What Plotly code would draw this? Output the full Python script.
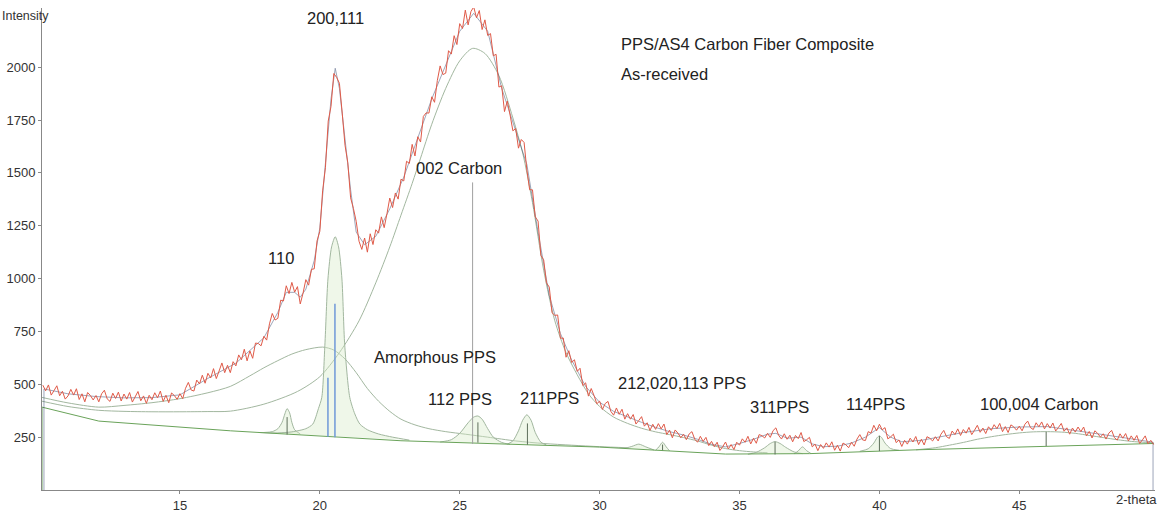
import numpy as np
import plotly.graph_objects as go

# ---------------- data ----------------
# measured pattern, 2-theta from 10.1 to 49.8 in 0.1 deg steps
two_theta = np.round(np.arange(10.1, 49.85, 0.1), 1)
intensity = [
    496, 469, 497, 449, 470, 493, 446, 467, 430,                    # 10.1-10.9
    445, 476, 449, 479, 428, 455, 417, 461, 447, 426,               # 11
    447, 417, 455, 472, 431, 419, 458, 433, 463, 421,               # 12
    454, 430, 461, 416, 440, 466, 422, 445, 410, 448,               # 13
    427, 460, 436, 468, 419, 448, 413, 459, 447, 429,               # 14
    456, 432, 481, 509, 473, 468, 520, 502, 543, 505,               # 15
    552, 530, 574, 527, 563, 601, 555, 590, 555, 607,               # 16
    587, 639, 616, 666, 611, 658, 623, 695, 693, 682,               # 17
    727, 709, 786, 835, 804, 812, 898, 894, 966, 929,               # 18
    982, 936, 962, 880, 931, 995, 969, 1044, 1046, 1178,            # 19
    1224, 1415, 1525, 1745, 1815, 1970, 1952, 1924, 1783, 1631,     # 20
    1548, 1382, 1332, 1271, 1177, 1138, 1192, 1125, 1212, 1161,     # 21
    1231, 1215, 1292, 1241, 1307, 1381, 1336, 1405, 1376, 1470,     # 22
    1462, 1555, 1545, 1635, 1580, 1671, 1646, 1767, 1784, 1783,     # 23
    1860, 1834, 1937, 2006, 1965, 1972, 2078, 2062, 2149, 2107,     # 24
    2206, 2183, 2270, 2200, 2263, 2285, 2234, 2268, 2178, 2224,     # 25
    2150, 2159, 2054, 2061, 1906, 1912, 1790, 1840, 1774, 1699,     # 26
    1710, 1617, 1658, 1644, 1514, 1420, 1420, 1292, 1272, 1110,     # 27
    1089, 980, 960, 838, 826, 828, 718, 719, 628, 659,              # 28
    603, 616, 561, 576, 494, 507, 444, 480, 447, 408,               # 29
    420, 381, 409, 419, 372, 354, 388, 358, 382, 335,               # 30
    361, 335, 357, 312, 329, 347, 302, 318, 282, 311,               # 31
    287, 314, 289, 312, 262, 283, 247, 284, 269, 247,               # 32
    264, 238, 265, 276, 240, 226, 254, 230, 249, 210,               # 33
    230, 205, 226, 187, 205, 227, 194, 215, 191, 226,               # 34
    212, 242, 226, 254, 218, 245, 221, 262, 257, 246,               # 35
    268, 249, 281, 294, 258, 241, 266, 240, 259, 228,               # 36
    258, 243, 272, 229, 238, 249, 204, 217, 186, 215,               # 37
    197, 223, 203, 228, 188, 212, 184, 222, 214, 200,               # 38
    226, 207, 241, 262, 237, 234, 276, 269, 306, 280,               # 39
    311, 285, 295, 242, 251, 264, 224, 237, 206, 235,               # 40
    217, 245, 227, 253, 215, 240, 213, 252, 245, 232,               # 41
    252, 232, 264, 282, 252, 244, 279, 262, 289, 258,               # 42
    286, 269, 296, 262, 283, 306, 273, 293, 267, 299,               # 43
    282, 309, 290, 315, 276, 300, 272, 308, 299, 283,               # 44
    302, 280, 311, 326, 295, 286, 318, 299, 322, 289,               # 45
    314, 293, 317, 279, 296, 315, 278, 294, 264, 293,               # 46
    274, 298, 276, 298, 256, 277, 246, 280, 268, 250,               # 47
    266, 241, 269, 282, 248, 236, 266, 245, 267, 232,               # 48
    256, 235, 258, 220, 237, 256, 219, 235, 215,                    # 49.0-49.8
]

# fitted total profile
fit_x = [10.14, 10.14, 11, 12, 13, 14, 15, 16, 17, 18, 18.5, 18.8, 19.1, 19.3, 19.5, 19.8,
         20.0, 20.2, 20.4, 20.55, 20.7, 20.9, 21.1, 21.3, 21.6, 22.0, 22.5, 23.0, 23.5, 24.0,
         24.5, 25.0, 25.5, 26.0, 26.5, 27.0, 27.4, 27.8, 28.2, 28.6, 29.0, 29.5, 30.0, 30.5,
         31.0, 31.5, 32.0, 32.5, 33.0, 33.5, 34.0, 34.5, 35.0, 35.5, 36.0, 36.3, 36.7, 37.2,
         37.6, 38.0, 38.5, 39.0, 39.5, 40.0, 40.4, 40.8, 41.5, 42.0, 43.0, 44.0, 45.0, 46.0,
         47.0, 48.0, 49.0, 49.78, 49.78]
fit_y = [0, 478, 455, 442, 436, 437, 450, 528, 600, 720, 840, 935, 935, 912, 950, 1085,
         1240, 1530, 1850, 1995, 1900, 1660, 1420, 1220, 1160, 1200, 1330, 1480, 1660, 1850,
         2010, 2170, 2255, 2170, 1900, 1700, 1540, 1220, 920, 740, 615, 490, 415, 372,
         345, 320, 296, 276, 260, 240, 216, 204, 220, 240, 264, 268, 245, 250,
         218, 205, 207, 222, 250, 295, 250, 228, 235, 248, 272, 290, 298, 300,
         282, 262, 242, 226, 0]

# background
bg_x = [10.07, 10.07, 12.1, 16.8, 22.9, 30.0, 34.5, 37.5, 41.3, 49.8]
bg_y = [0, 392, 326, 280, 233, 203, 170, 172, 190, 220]

# amorphous PPS component
am_x = [10.07, 11.0, 12.1, 13.0, 14.0, 15.0, 16.0, 16.8, 17.5, 18.0, 18.5, 19.0, 19.5, 20.1,
        20.5, 20.9, 21.3, 21.7, 22.1, 22.5, 22.9, 23.4, 23.9, 24.5, 25.2, 26.0, 27.0, 28.0,
        29.0, 30.0, 31.0]
am_y = [438, 412, 392, 400, 413, 432, 460, 490, 540, 578, 612, 643, 664, 676,
        662, 620, 555, 480, 420, 372, 335, 308, 290, 276, 264, 250, 232, 220,
        212, 205, 200]

# 002 carbon component
c002_x = [10.07, 11.0, 12.1, 13.0, 14.0, 15.0, 16.0, 16.8, 18.0, 19.2, 20.0, 20.7, 21.4, 22.0,
          22.5, 22.9, 23.3, 23.6, 24.0, 24.5, 25.0, 25.46, 25.9, 26.4, 26.9, 27.25, 27.6, 28.0,
          28.4, 28.8, 29.2, 29.6, 30.0, 30.5, 31.0, 31.5, 32.0, 32.5, 33.0, 33.5, 34.0, 34.5,
          35.0, 35.5, 36.0]
c002_y = [420, 395, 377, 372, 370, 370, 371, 373, 406, 466, 536, 650, 800, 980,
          1150, 1300, 1450, 1570, 1730, 1900, 2030, 2089, 2065, 1960, 1760, 1594, 1360, 1040,
          800, 650, 545, 455, 395, 345, 315, 292, 275, 262, 248, 232, 212, 196,
          186, 180, 176]

# 100,004 carbon component
c100_x = [41.3, 42.0, 42.5, 43.0, 43.5, 44.0, 44.5, 45.0, 45.5, 46.0, 46.5, 47.0, 47.5, 48.0,
          48.5, 49.0, 49.5, 49.8]
c100_y = [190, 200, 212, 225, 240, 252, 262, 270, 275, 276, 274, 268, 258, 248,
          238, 230, 225, 222]

# crystalline PPS peak components
pk110_x = [18.0, 18.3, 18.5, 18.65, 18.75, 18.83, 18.92, 19.0, 19.1, 19.3]
pk110_y = [272, 276, 290, 320, 360, 385, 365, 320, 285, 265]

pk200_x = [17.8, 18.5, 19.0, 19.5, 19.75, 19.95, 20.07, 20.18, 20.29, 20.42, 20.55, 20.67,
           20.79, 20.89, 21.07, 21.25, 21.43, 21.7, 22.1, 22.6, 23.2]
pk200_y = [272, 270, 275, 290, 312, 385, 438, 685, 998, 1150, 1198, 1150,
           998, 685, 438, 360, 312, 285, 265, 250, 236]

pk112_x = [24.3, 24.7, 25.0, 25.3, 25.5, 25.65, 25.8, 26.0, 26.2, 26.5, 26.8]
pk112_y = [227, 238, 268, 318, 345, 350, 335, 290, 250, 225, 216]

pk211_x = [26.7, 26.9, 27.1, 27.25, 27.4, 27.55, 27.7, 27.9, 28.1]
pk211_y = [217, 232, 280, 330, 356, 330, 272, 226, 213]

pk212a_x = [30.9, 31.15, 31.4, 31.65, 31.95]
pk212a_y = [197, 206, 217, 204, 189]
pk212b_x = [32.0, 32.12, 32.25, 32.38, 32.5]
pk212b_y = [188, 204, 226, 204, 185]

pk311_x = [35.3, 35.6, 35.9, 36.1, 36.27, 36.45, 36.65, 36.95, 37.25]
pk311_y = [169, 178, 200, 220, 229, 220, 202, 180, 172]
pk311b_x = [36.95, 37.1, 37.25, 37.4, 37.55]
pk311b_y = [171, 185, 204, 186, 173]

pk114_x = [39.3, 39.6, 39.8, 39.92, 40.0, 40.08, 40.2, 40.4, 40.7]
pk114_y = [183, 195, 222, 248, 256, 248, 222, 196, 188]

# peak position sticks
stick_x = [18.83, 25.65, 27.42, 32.25, 36.27, 40.0, 45.96]
stick_top = [345, 320, 315, 215, 228, 256, 275]
stick_bot = [262, 224, 214, 188, 168, 184, 208]
blue_stick_x = [20.29, 20.54]
blue_stick_top = [531, 881]
blue_stick_bot = [252, 250]

# pointer line for "002 Carbon"
pointer_x = 25.46
pointer_top = 1455
pointer_bot = 218

labels = [
    ("200,111", 20.57, 2233, "center"),
    ("002 Carbon", 24.96, 1524, "center"),
    ("110", 18.6, 1096, "center"),
    ("Amorphous PPS", 24.1, 629, "center"),
    ("112 PPS", 25.0, 429, "center"),
    ("211PPS", 28.2, 434, "center"),
    ("212,020,113 PPS", 32.93, 508, "center"),
    ("311PPS", 36.43, 392, "center"),
    ("114PPS", 39.86, 406, "center"),
    ("100,004 Carbon", 45.71, 406, "center"),
    ("PPS/AS4 Carbon Fiber Composite", 30.71, 2112, "left"),
    ("As-received", 30.71, 1967, "left"),
]

x_ticks = [15, 20, 25, 30, 35, 40, 45]
y_ticks = [250, 500, 750, 1000, 1250, 1500, 1750, 2000]

# ---------------- figure ----------------
COMP = "#a2b79f"
FILL = "rgba(214,236,200,0.4)"
fig = go.Figure()

for cx, cy in [(am_x, am_y), (c002_x, c002_y), (c100_x, c100_y)]:
    fig.add_trace(go.Scatter(x=cx, y=cy, mode="lines",
                             line=dict(color=COMP, width=1, shape="spline", smoothing=0.8),
                             hoverinfo="skip"))

for px_, py_ in [(pk110_x, pk110_y), (pk200_x, pk200_y), (pk112_x, pk112_y),
                 (pk211_x, pk211_y), (pk212a_x, pk212a_y), (pk212b_x, pk212b_y),
                 (pk311_x, pk311_y), (pk311b_x, pk311b_y), (pk114_x, pk114_y)]:
    fig.add_trace(go.Scatter(x=px_, y=py_, mode="lines", fill="toself", fillcolor=FILL,
                             line=dict(color=COMP, width=1, shape="spline", smoothing=0.7),
                             hoverinfo="skip"))

fig.add_trace(go.Scatter(x=bg_x, y=bg_y, mode="lines",
                         line=dict(color="#6aa35a", width=1), hoverinfo="skip"))

sx, sy = [], []
for x0, t, b in zip(stick_x, stick_top, stick_bot):
    sx += [x0, x0, None]
    sy += [t, b, None]
fig.add_trace(go.Scatter(x=sx, y=sy, mode="lines", line=dict(color="#5d6e5a", width=1),
                         hoverinfo="skip"))
bx, by = [], []
for x0, t, b in zip(blue_stick_x, blue_stick_top, blue_stick_bot):
    bx += [x0, x0, None]
    by += [t, b, None]
fig.add_trace(go.Scatter(x=bx, y=by, mode="lines", line=dict(color="#6f98d8", width=1.5),
                         hoverinfo="skip"))
fig.add_trace(go.Scatter(x=[pointer_x, pointer_x], y=[pointer_top, pointer_bot], mode="lines",
                         line=dict(color="#a0a0a0", width=1), hoverinfo="skip"))

fig.add_trace(go.Scatter(x=fit_x, y=fit_y, mode="lines", opacity=0.6,
                         line=dict(color="#34456e", width=0.8), hoverinfo="skip"))
fig.add_trace(go.Scatter(x=two_theta, y=intensity, mode="lines",
                         line=dict(color="#e05a48", width=1), hoverinfo="skip"))

for txt, x0, y0, anc in labels:
    fig.add_annotation(x=x0, y=y0, xref="x", yref="y", text=txt, showarrow=False,
                       xanchor=anc, yanchor="middle",
                       font=dict(size=16.5, color="#222", family="Liberation Sans, Arial"))

L, R, T, B = 42, 3, 8, 19
PW, PH = 1158 - L - R, 516 - T - B
fig.add_annotation(x=-L / PW, y=(497 - 16 - B) / PH + B / PH - B / PH + (B - B) / PH,
                   xref="paper", yref="paper",
                   text="Intensity", showarrow=False, xanchor="left", yanchor="middle",
                   font=dict(size=12.5, color="#333"))
fig.layout.annotations[-1].y = (497 - 16) / PH
fig.add_annotation(x=(1114 - L) / PW, y=(497 - 507) / PH, xref="paper", yref="paper",
                   text="2-theta", showarrow=False, xanchor="left", yanchor="middle",
                   font=dict(size=13, color="#333"))

fig.update_layout(
    width=1158, height=516, margin=dict(l=L, r=R, t=T, b=B),
    plot_bgcolor="white", paper_bgcolor="white", showlegend=False,
    font=dict(family="Liberation Sans, Arial", color="#333"),
    xaxis=dict(range=[10.07, 49.85], tickvals=x_ticks, showline=True, linecolor="#888",
               linewidth=1, ticks="outside", ticklen=3, tickcolor="#888", showgrid=False,
               zeroline=False, tickfont=dict(size=13, color="#333")),
    yaxis=dict(range=[0, 2280], tickvals=y_ticks, showline=True, linecolor="#888",
               linewidth=1, ticks="outside", ticklen=3, tickcolor="#888", showgrid=False,
               zeroline=False, tickfont=dict(size=13, color="#333")),
)

assert len(two_theta) == len(intensity), (len(two_theta), len(intensity))
assert len(fit_x) == len(fit_y)
fig.write_html("out.html")
